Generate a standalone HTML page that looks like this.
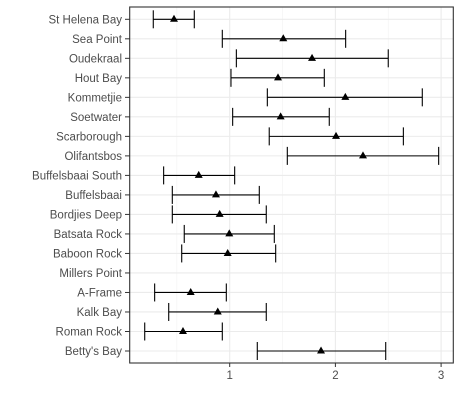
<!DOCTYPE html>
<html><head><meta charset="utf-8"><style>
html,body{margin:0;padding:0;background:#fff;}
svg{display:block;font-family:"Liberation Sans",Arial,sans-serif;}
</style></head><body>
<svg id="chart" width="461" height="408" viewBox="0 0 461 408"></svg>
<script>
const sites = ["St Helena Bay","Sea Point","Oudekraal","Hout Bay","Kommetjie","Soetwater","Scarborough","Olifantsbos","Buffelsbaai South","Buffelsbaai","Bordjies Deep","Batsata Rock","Baboon Rock","Millers Point","A-Frame","Kalk Bay","Roman Rock","Betty's Bay"];
const means = [0.473,1.507,1.779,1.457,2.094,1.482,2.006,2.261,0.707,0.870,0.905,0.996,0.981,null,0.631,0.887,0.558,1.864];
const lows  = [0.277,0.930,1.063,1.012,1.356,1.028,1.374,1.545,0.375,0.457,0.457,0.570,0.546,null,0.290,0.423,0.196,1.261];
const highs = [0.665,2.097,2.500,1.895,2.822,1.942,2.643,2.977,1.047,1.280,1.346,1.422,1.435,null,0.968,1.346,0.930,2.476];
const xTicks = [1,2,3];
const xMinor = [0.5,1.5,2.5];

const NS="http://www.w3.org/2000/svg";
const svg=document.getElementById('chart');
const L=129.7,R=453.3,T=7,B=363;
const xs=v=>124+(v)*105.7;
const ys=i=>19.3+i*((351-19.3)/17);
function mk(tag,attrs,parent){const e=document.createElementNS(NS,tag);for(const k in attrs)e.setAttribute(k,attrs[k]);(parent||svg).appendChild(e);return e;}

const grid=mk('g',{});


xMinor.forEach(v=>{mk('line',{x1:xs(v),x2:xs(v),y1:T,y2:B,stroke:'#f2f2f2','stroke-width':0.6},grid);});
xTicks.forEach(v=>{mk('line',{x1:xs(v),x2:xs(v),y1:T,y2:B,stroke:'#ebebeb','stroke-width':1.1},grid);});
sites.forEach((s,i)=>{mk('line',{x1:L,x2:R,y1:ys(i),y2:ys(i),stroke:'#ebebeb','stroke-width':1.1},grid);});

const marks=mk('g',{});


sites.forEach((s,i)=>{
  const y=ys(i);
  const lab=mk('text',{x:122,y:y+4,'text-anchor':'end','font-size':'11.5',fill:'#4d4d4d'});
  lab.textContent=s;
  
  
  mk('line',{x1:125,x2:L,y1:y,y2:y,stroke:'#333','stroke-width':1});
  if(means[i]==null)return;
  const g=mk('g',{},marks);
  
  
  const a=xs(lows[i]),b=xs(highs[i]),m=xs(means[i]);
  mk('line',{x1:a,x2:b,y1:y,y2:y,stroke:'#000','stroke-width':1.1},g);
  mk('line',{x1:a,x2:a,y1:y-9,y2:y+9,stroke:'#000','stroke-width':1.1},g);
  mk('line',{x1:b,x2:b,y1:y-9,y2:y+9,stroke:'#000','stroke-width':1.1},g);
  const p=mk('polygon',{points:`${m},${y-4.5} ${m-4},${y+2.5} ${m+4},${y+2.5}`,fill:'#000'},g);
  
  
});

const border=mk('rect',{x:L,y:T,width:R-L,height:B-T,fill:'none',stroke:'#333','stroke-width':1.1});


xTicks.forEach(v=>{
  mk('line',{x1:xs(v),x2:xs(v),y1:B,y2:B+4,stroke:'#333','stroke-width':1});
  const t=mk('text',{x:xs(v),y:B+16,'text-anchor':'middle','font-size':'11.5',fill:'#4d4d4d'});
  t.textContent=v;
  
  
});
</script>
</body></html>
